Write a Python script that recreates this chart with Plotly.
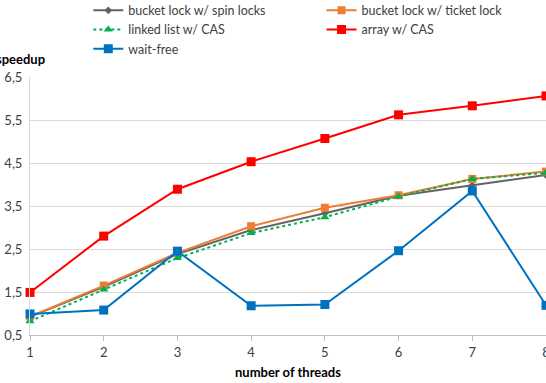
import plotly.graph_objects as go

threads = [1, 2, 3, 4, 5, 6, 7, 8]
spin_locks = [0.92, 1.62, 2.38, 2.94, 3.33, 3.74, 3.98, 4.22]
ticket_lock = [0.93, 1.65, 2.41, 3.03, 3.46, 3.75, 4.13, 4.30]
linked_list = [0.82, 1.56, 2.29, 2.87, 3.24, 3.72, 4.13, 4.27]
array_cas = [1.49, 2.80, 3.89, 4.53, 5.07, 5.62, 5.83, 6.06]
wait_free = [0.99, 1.08, 2.45, 1.18, 1.21, 2.46, 3.85, 1.19]

y_ticks = [0.5, 1.5, 2.5, 3.5, 4.5, 5.5, 6.5]
y_ticktext = ["0,5", "1,5", "2,5", "3,5", "4,5", "5,5", "6,5"]

FONT = "Lato, 'Open Sans', sans-serif"

series = [
    ("bucket lock w/ spin locks", spin_locks, "#636363", "solid", "diamond", 6, "legend"),
    ("bucket lock w/ ticket lock", ticket_lock, "#ED7D31", "solid", "square", 8, "legend2"),
    ("linked list w/ CAS", linked_list, "#00B050", "dot", "triangle-up", 8, "legend"),
    ("array w/ CAS", array_cas, "#FF0000", "solid", "square", 9, "legend2"),
    ("wait-free", wait_free, "#0070C0", "solid", "square", 9, "legend"),
]

fig = go.Figure()
for name, vals, color, dash, sym, size, lg in series:
    fig.add_trace(go.Scatter(
        x=threads, y=vals, name=name, mode="lines+markers",
        line=dict(color=color, width=2, dash=dash),
        marker=dict(symbol=sym, size=size, color=color),
        cliponaxis=False, legend=lg,
    ))

legend_common = dict(
    orientation="v", yanchor="top", xanchor="left",
    font=dict(family=FONT, size=12.5, color="#404040"),
    itemwidth=30, tracegroupgap=0, bgcolor="rgba(0,0,0,0)",
)

fig.update_layout(
    width=546, height=383,
    margin=dict(l=30, r=0, t=77, b=48, autoexpand=False),
    paper_bgcolor="white", plot_bgcolor="white",
    font=dict(family=FONT, size=13, color="#404040"),
    showlegend=True,
    legend=dict(x=0.113, y=1.315, **legend_common),
    legend2=dict(x=0.565, y=1.315, **legend_common),
    xaxis=dict(
        range=[1, 8], tickvals=threads, ticks="outside", ticklen=5,
        tickcolor="#BFBFBF", showline=True, linecolor="#BFBFBF", linewidth=1,
        showgrid=False, zeroline=False, ticklabeloverflow="allow",
        tickfont=dict(family=FONT, size=13, color="#404040"),
    ),
    yaxis=dict(
        range=[0.5, 6.5], tickvals=y_ticks, ticktext=y_ticktext,
        showgrid=True, gridcolor="#D9D9D9", gridwidth=1,
        showline=True, linecolor="#D9D9D9", zeroline=False,
        ticklabelstandoff=4, ticklabeloverflow="allow",
        tickfont=dict(family=FONT, size=13, color="#404040"),
    ),
    annotations=[
        dict(text="<b>speedup</b>", xref="paper", yref="paper", x=0, y=1.07,
             xanchor="right", yanchor="middle", xshift=17, showarrow=False,
             font=dict(family=FONT, size=13, color="#000000")),
        dict(text="<b>number of threads</b>", xref="paper", yref="paper", x=0.5, y=0,
             xanchor="center", yanchor="middle", yshift=-37, showarrow=False,
             font=dict(family=FONT, size=13, color="#000000")),
    ],
)

fig.write_html("out.html")
